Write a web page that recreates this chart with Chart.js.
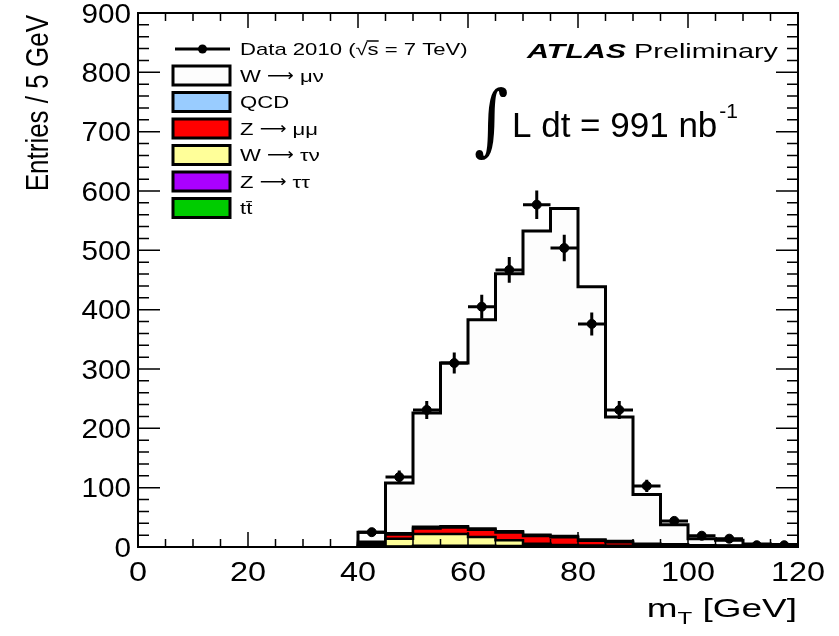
<!DOCTYPE html>
<html>
<head>
<meta charset="utf-8">
<script src="https://cdn.jsdelivr.net/npm/chart.js@4/dist/chart.umd.min.js"></script>
<style>
  html, body { margin: 0; padding: 0; background: #fff; }
  canvas { display: block; }
</style>
</head>
<body>
<canvas id="mtChart" width="839" height="636"></canvas>
<script>
// bin edges in GeV (5 GeV bins)
const binEdges = [40, 45, 50, 55, 60, 65, 70, 75, 80, 85, 90, 95, 100, 105, 110, 115, 120];

// data and MC contributions per bin (entries / 5 GeV)
const dataCounts = [25, 118, 231, 310, 405, 467, 577, 504, 376, 231, 103, 44, 19, 14, 3, 3];
const wmunu   = [16, 85, 192, 275, 352, 434, 512, 552, 426, 209, 83, 33, 11, 9, 3, 3];
const qcd     = [3, 2, 3, 2, 2, 2, 2, 2, 2, 2, 1, 1, 0.5, 0.5, 0.5, 0.3];
const zmumu   = [3, 7, 9, 11, 12, 13, 13, 13, 8, 6, 3, 2, 1.5, 1, 1, 0.5];
const wtaunu  = [2, 13, 20, 20, 15, 10, 4, 2, 1.5, 1, 0.5, 0.5, 0.3, 0.3, 0.2, 0.2];
const ztautau = [1, 1, 1.5, 1.5, 1.5, 1, 1, 1, 0.5, 0.5, 0.5, 0.5, 0.3, 0.3, 0.2, 0.2];
const ttbar   = [0, 0, 0.5, 0.5, 0.5, 0.5, 0.5, 0.5, 0.5, 0.5, 0.5, 0.5, 0.3, 0.3, 0.2, 0.2];

const xTickLabels = ["0", "20", "40", "60", "80", "100", "120"];
const yTickLabels = ["0", "100", "200", "300", "400", "500", "600", "700", "800", "900"];

const FONT = '"Liberation Sans", Arial, sans-serif';

const binCenters = binEdges.slice(0, -1).map((e, i) => (e + binEdges[i + 1]) / 2);

// stack from bottom to top, like the ROOT THStack
// label split in [before arrow, after arrow] so the arrow can get its own font
const stackOrder = [
  { label: ["tt\u0304"], values: ttbar, color: "#00cc00" },
  { label: ["Z", "\u03c4\u03c4"], values: ztautau, color: "#aa00ff" },
  { label: ["W", "\u03c4\u03bd"], values: wtaunu, color: "#ffff99" },
  { label: ["Z", "\u03bc\u03bc"], values: zmumu, color: "#ff0000" },
  { label: ["QCD"], values: qcd, color: "#99ccff" },
  { label: ["W", "\u03bc\u03bd"], values: wmunu, color: "#fdfdfd" },
];

let running = binCenters.map(() => 0);
const stackLayers = stackOrder.map((s) => {
  running = running.map((r, i) => r + s.values[i]);
  return { ...s, cum: running.slice() };
});

function stepPoints(cum) {
  const pts = [{ x: binEdges[0], y: 0 }];
  cum.forEach((v, i) => pts.push({ x: binEdges[i], y: v }));
  pts.push({ x: binEdges[binEdges.length - 1], y: cum[cum.length - 1] });
  return pts;
}

function drawText(ctx, str, x, y, size, opts = {}) {
  ctx.save();
  ctx.font = `${opts.style || "normal"} ${opts.weight || "normal"} ${size}px ${opts.family || FONT}`;
  ctx.textAlign = opts.align || "left";
  ctx.textBaseline = "alphabetic";
  ctx.fillStyle = "#000";
  ctx.translate(x, y);
  ctx.scale(opts.sx || 1, 1);
  if (opts.rotate) ctx.rotate(opts.rotate);
  ctx.fillText(str, 0, 0);
  const w = ctx.measureText(str).width * (opts.sx || 1);
  ctx.restore();
  return w;
}

function textWidth(ctx, str, size, opts = {}) {
  ctx.save();
  ctx.font = `${opts.style || "normal"} ${opts.weight || "normal"} ${size}px ${opts.family || FONT}`;
  const w = ctx.measureText(str).width * (opts.sx || 1);
  ctx.restore();
  return w;
}

// error bars for the data points
const errorBars = {
  id: "errorBars",
  afterDatasetsDraw(chart) {
    const { ctx, scales: { x, y } } = chart;
    ctx.save();
    ctx.strokeStyle = "#000";
    ctx.lineWidth = 3;
    dataCounts.forEach((n, i) => {
      const err = Math.sqrt(n);
      const px = x.getPixelForValue(binCenters[i]);
      const py = y.getPixelForValue(n);
      ctx.beginPath();
      ctx.moveTo(x.getPixelForValue(binEdges[i]), py);
      ctx.lineTo(x.getPixelForValue(binEdges[i + 1]), py);
      ctx.moveTo(px, y.getPixelForValue(n - err));
      ctx.lineTo(px, y.getPixelForValue(n + err));
      ctx.stroke();
    });
    ctx.restore();
  },
};

// ROOT style frame, inner ticks, labels, legend and annotations
const decorations = {
  id: "decorations",
  afterDraw(chart) {
    const { ctx, chartArea: a, scales: { x, y } } = chart;
    ctx.save();
    ctx.strokeStyle = "#000";

    ctx.lineWidth = 1.5;
    ctx.beginPath();
    for (let v = 0; v <= 120; v += 5) {
      const len = v % 20 === 0 ? 15 : 8;
      const px = x.getPixelForValue(v);
      ctx.moveTo(px, a.bottom); ctx.lineTo(px, a.bottom - len);
      ctx.moveTo(px, a.top); ctx.lineTo(px, a.top + len);
    }
    for (let v = 0; v <= 900; v += 20) {
      const len = v % 100 === 0 ? 22 : 11;
      const py = y.getPixelForValue(v);
      ctx.moveTo(a.left, py); ctx.lineTo(a.left + len, py);
      ctx.moveTo(a.right, py); ctx.lineTo(a.right - len, py);
    }
    ctx.stroke();

    ctx.lineWidth = 2;
    ctx.strokeRect(a.left, a.top, a.right - a.left, a.bottom - a.top);

    // tick labels
    xTickLabels.forEach((t) => {
      drawText(ctx, t, x.getPixelForValue(Number(t)), 581, 27, { align: "center", sx: 1.2 });
    });
    yTickLabels.forEach((t) => {
      drawText(ctx, t, 131, y.getPixelForValue(Number(t)) + 9.5, 27, { align: "right", sx: 1.1 });
    });

    // axis titles
    drawText(ctx, "Entries / 5 GeV", 48, 15, 26, { align: "right", sx: 1.2, rotate: -Math.PI / 2 });
    const sxT = 1.42;
    const wRest = textWidth(ctx, " [GeV]", 26, { sx: sxT });
    const wSub = textWidth(ctx, "T", 17, { sx: sxT });
    const wM = textWidth(ctx, "m", 26, { sx: sxT });
    let tx = 797 - wRest - wSub - wM;
    tx += drawText(ctx, "m", tx, 617, 26, { sx: sxT });
    tx += drawText(ctx, "T", tx, 624, 17, { sx: sxT });
    drawText(ctx, " [GeV]", tx, 617, 26, { sx: sxT });

    // ATLAS label
    const wPrel = textWidth(ctx, "Preliminary", 21, { sx: 1.37 });
    drawText(ctx, "Preliminary", 778, 58, 21, { align: "right", sx: 1.37 });
    drawText(ctx, "ATLAS", 778 - wPrel - 8, 58, 21, { align: "right", sx: 1.45, weight: "bold", style: "italic" });

    // luminosity
    drawText(ctx, "\u222b", 474, 146, 78, { family: '"DejaVu Serif", serif', sx: 0.85 });
    const wL = drawText(ctx, "L dt = 991 nb", 512, 137, 35, { sx: 1.0 });
    drawText(ctx, "-1", 512 + wL + 2, 118, 21, { sx: 1.0 });

    // legend
    const lx0 = 173, lx1 = 230, textX = 240;
    const rowH = 26.5, row0 = 49;
    ctx.lineWidth = 3;
    ctx.beginPath();
    ctx.moveTo(lx0 + 2, row0); ctx.lineTo(lx1, row0);
    ctx.stroke();
    ctx.fillStyle = "#000";
    ctx.beginPath();
    ctx.arc((lx0 + lx1) / 2 + 1, row0, 4.5, 0, Math.PI * 2);
    ctx.fill();
    const legFs = 17, legSx = 1.3;
    const pre = "Data 2010 (\u221a";
    const wPre = textWidth(ctx, pre, legFs, { sx: legSx });
    const wS = textWidth(ctx, "s", legFs, { sx: legSx });
    drawText(ctx, pre + "s = 7 TeV)", textX, row0 + 6, legFs, { sx: legSx });
    ctx.lineWidth = 1.5;
    ctx.beginPath();
    ctx.moveTo(textX + wPre - 1, row0 - 8);
    ctx.lineTo(textX + wPre + wS, row0 - 8);
    ctx.stroke();

    stackLayers.slice().reverse().forEach((s, i) => {
      const cy = row0 + rowH * (i + 1);
      ctx.fillStyle = s.color;
      ctx.fillRect(lx0, cy - 9.5, lx1 - lx0, 19);
      ctx.lineWidth = 3;
      ctx.strokeStyle = "#000";
      ctx.strokeRect(lx0, cy - 9.5, lx1 - lx0, 19);
      let lx = textX;
      lx += drawText(ctx, s.label[0], lx, cy + 6, legFs, { sx: legSx });
      if (s.label.length > 1) {
        lx += textWidth(ctx, " ", legFs, { sx: legSx });
        lx += drawText(ctx, "\u27f6", lx, cy + 5, legFs, { sx: 1.1, family: '"DejaVu Sans", sans-serif' });
        lx += textWidth(ctx, " ", legFs, { sx: legSx });
        drawText(ctx, s.label[1], lx, cy + 6, legFs, { sx: legSx });
      }
    });

    ctx.restore();
  },
};

const datasets = [
  {
    label: "Data 2010",
    data: binCenters.map((c, i) => ({ x: c, y: dataCounts[i] })),
    showLine: false,
    pointRadius: 4.5,
    pointHoverRadius: 4.5,
    pointBackgroundColor: "#000",
    pointBorderColor: "#000",
    borderColor: "#000",
  },
];
stackLayers.forEach((s) => {
  datasets.push({
    label: s.label.join(" \u2192 "),
    data: stepPoints(s.cum),
    stepped: "before",
    fill: "origin",
    backgroundColor: s.color,
    borderColor: "#000",
    borderWidth: s.values === wmunu ? 3 : 2.5,
    pointRadius: 0,
  });
});

new Chart(document.getElementById("mtChart"), {
  type: "line",
  data: { datasets: datasets },
  options: {
    responsive: false,
    animation: false,
    devicePixelRatio: 1,
    layout: { padding: { left: 138, top: 13, right: 41, bottom: 89 } },
    scales: {
      x: { type: "linear", min: 0, max: 120, display: false },
      y: { min: 0, max: 900, display: false },
    },
    plugins: { legend: { display: false }, tooltip: { enabled: false } },
  },
  plugins: [errorBars, decorations],
});
</script>
</body>
</html>
